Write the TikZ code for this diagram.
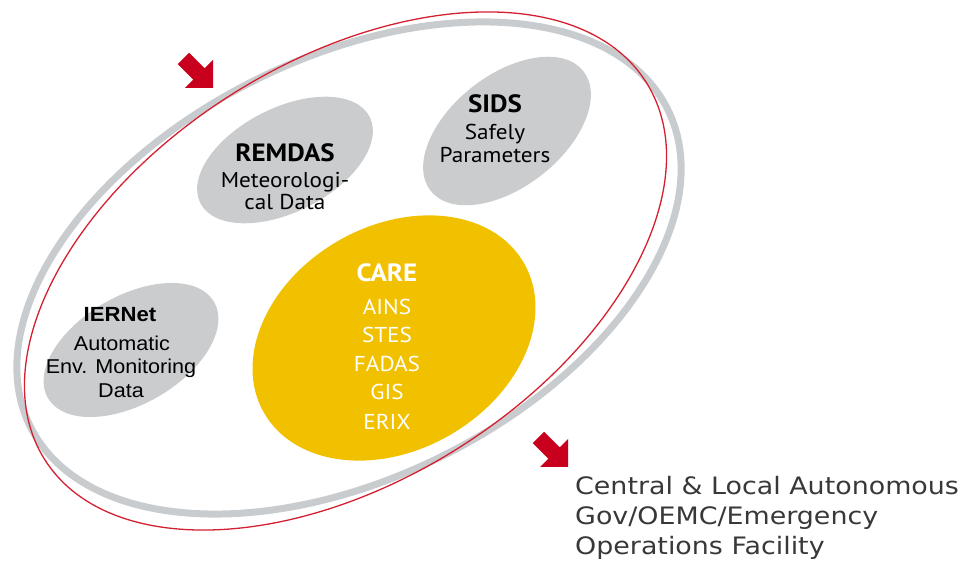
\documentclass[tikz,border=0pt]{standalone}
\usepackage{fontspec}
\setmainfont[FakeStretch=1.08]{PT Sans}
\newfontfamily\arialf[FakeStretch=1.08]{Liberation Sans}
\newfontfamily\verdf[FakeStretch=1.12]{DejaVu Sans}
\definecolor{ringgray}{HTML}{C9CCCF}
\definecolor{blobgray}{HTML}{CACCCE}
\definecolor{arrowred}{HTML}{C8001E}
\definecolor{linered}{HTML}{D42030}
\definecolor{careyellow}{HTML}{F1C100}
\definecolor{textgray}{HTML}{383838}
\tikzset{
  blob/.style={fill=blobgray, draw=none},
  ttl/.style={anchor=base, inner sep=0pt, font=\fontsize{25}{29}\selectfont\bfseries},
  txt/.style={anchor=base, inner sep=0pt, font=\fontsize{21.5}{25}\selectfont},
  ittl/.style={anchor=base, inner sep=0pt, font=\arialf\fontsize{20.5}{24}\selectfont\bfseries},
  itxt/.style={anchor=base, inner sep=0pt, font=\arialf\fontsize{20}{23}\selectfont},
  ctxt/.style={anchor=base, inner sep=0pt, text=white, font=\fontsize{21.5}{25}\selectfont},
  outtext/.style={anchor=base west, inner sep=0pt, text=textgray, font=\verdf\fontsize{24}{28}\selectfont},
  redarrow/.pic={\fill[arrowred] (0,0) -- (-28,0) -- (-19.66,8.34) -- (-35.2,23.9) -- (-23.9,35.2) -- (-8.34,19.66) -- (0,28) -- cycle;}
}
\begin{document}
\begin{tikzpicture}[x=1pt,y=1pt]
\useasboundingbox (0,0) rectangle (967,570);
% outer ring and red line
\draw[ringgray, line width=7pt, rotate around={26.5:(349,302)}] (349,302) ellipse [x radius=356, y radius=210];
\draw[linered, line width=1.3pt, rotate around={32:(345.5,299)}] (345.5,299) ellipse [x radius=355, y radius=210];
% blobs
\fill[blob, rotate around={27:(285,410)}] (285,410) ellipse [x radius=95, y radius=52];
\fill[blob, rotate around={38:(507,439)}] (507,439) ellipse [x radius=97, y radius=56];
\fill[blob, rotate around={30:(131,220)}] (131,220) ellipse [x radius=96, y radius=54];
\fill[careyellow, rotate around={30:(394,232)}] (394,232) ellipse [x radius=150, y radius=112];
% REMDAS
\node[ttl] (remdas) at (285,408) {REMDAS};
\node[txt] (remdas1) at (285,382) {Meteorologi-};
\node[txt] (remdas2) at (285,360) {cal Data};
% SIDS
\node[ttl] (sids) at (495,457) {SIDS};
\node[txt] (sids1) at (495,430) {Safely};
\node[txt] (sids2) at (495,407) {Parameters};
% IERNet
\node[ittl] (iernet) at (120,248) {IERNet};
\node[itxt] (iernet1) at (122,219) {Automatic};
\node[itxt] (iernet2) at (121,196) {Env. Monitoring};
\node[itxt] (iernet3) at (121,172) {Data};
% CARE
\node[ctxt, font=\fontsize{25}{29}\selectfont\bfseries] (care) at (387,288) {CARE};
\node[ctxt] (ains) at (387,255) {AINS};
\node[ctxt] (stes) at (387,227) {STES};
\node[ctxt] (fadas) at (387,198) {FADAS};
\node[ctxt] (gis) at (387,170) {GIS};
\node[ctxt] (erix) at (387,140) {ERIX};
% arrows
\pic at (213,482) {redarrow};
\pic at (568,103) {redarrow};
% output text
\node[outtext] (out1) at (575,75) {Central \& Local Autonomous};
\node[outtext] (out2) at (575,45) {Gov/OEMC/Emergency};
\node[outtext] (out3) at (575,15) {Operations Facility};
\end{tikzpicture}
\end{document}
